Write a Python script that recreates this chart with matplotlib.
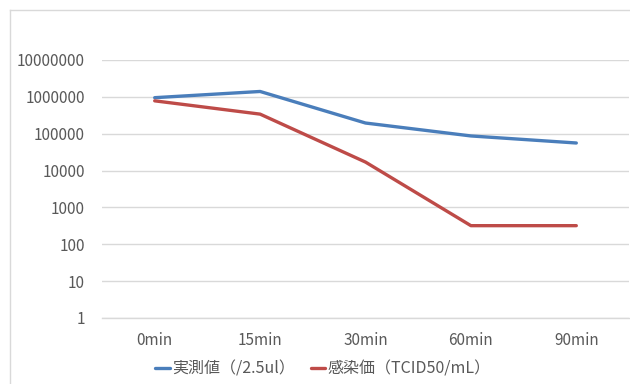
import matplotlib
matplotlib.use("Agg")
import matplotlib.pyplot as plt
from matplotlib.lines import Line2D
from matplotlib.ticker import FixedLocator, NullLocator

plt.rcParams['font.family'] = ['Noto Sans CJK JP', 'DejaVu Sans']

categories = ["0min", "15min", "30min", "60min", "90min"]
measured = [950000, 1400000, 195000, 87000, 56000]
infectivity = [780000, 340000, 17000, 320, 320]
series_labels = ["実測値（/2.5ul）", "感染価（TCID50/mL）"]
y_ticks = [1, 10, 100, 1000, 10000, 100000, 1000000, 10000000]
y_tick_labels = ["1", "10", "100", "1000", "10000", "100000", "1000000", "10000000"]

blue = "#4A7EBB"
red = "#BE4B48"
grid = "#D9D9D9"
text_color = "#595959"

fig = plt.figure(figsize=(6.3, 3.84), dpi=100)
ax = fig.add_axes([102 / 630, 1 - 318 / 384, 527 / 630, (318 - 60) / 384])

x = list(range(len(categories)))
ax.plot(x, measured, color=blue, lw=2.4, solid_capstyle="round",
        solid_joinstyle="round", label=series_labels[0])
ax.plot(x, infectivity, color=red, lw=2.4, solid_capstyle="round",
        solid_joinstyle="round", label=series_labels[1])

ax.set_yscale("log")
ax.set_ylim(1, 10000000)
ax.set_xlim(-0.5, len(categories) - 0.5)
ax.yaxis.set_major_locator(FixedLocator(y_ticks))
ax.yaxis.set_minor_locator(NullLocator())
ax.set_yticklabels(y_tick_labels)
ax.set_xticks(x)
ax.set_xticklabels(categories)

ax.grid(axis="y", color=grid, lw=1.0)
ax.set_axisbelow(True)
for s in ["top", "right", "left"]:
    ax.spines[s].set_visible(False)
ax.spines["bottom"].set_color(grid)
ax.spines["bottom"].set_linewidth(1.0)
ax.tick_params(axis="both", length=0, labelsize=11, labelcolor=text_color)
ax.tick_params(axis="y", pad=12.5)
ax.tick_params(axis="x", pad=10)

leg = fig.legend(loc="center", bbox_to_anchor=(323 / 630, 1 - 369 / 384), ncol=2,
                 frameon=False, fontsize=11.5, handlelength=0.9,
                 handletextpad=0.15, columnspacing=1.0)
for t in leg.get_texts():
    t.set_color(text_color)

# chart frame (top and left edges)
fig.add_artist(Line2D([10 / 630, 1.0], [1 - 9.5 / 384, 1 - 9.5 / 384],
                      transform=fig.transFigure, color=grid, lw=1.0))
fig.add_artist(Line2D([10 / 630, 10 / 630], [0.0, 1 - 9.5 / 384],
                      transform=fig.transFigure, color=grid, lw=1.0))

fig.savefig("out.png", dpi=100)
